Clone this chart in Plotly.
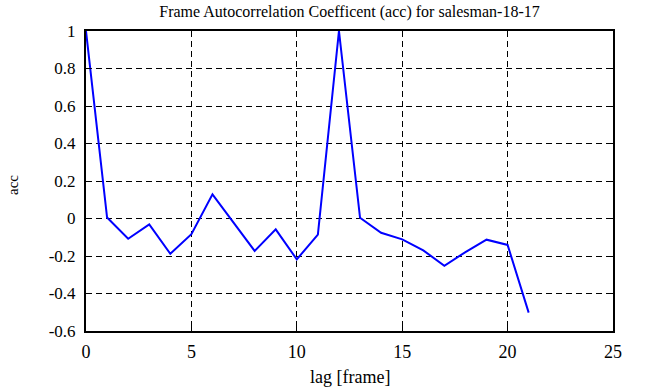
import plotly.graph_objects as go

lags = list(range(0, 22))
acc = [1.0, 0.005, -0.108, -0.031, -0.188, -0.084, 0.129, -0.024, -0.173, -0.058,
       -0.218, -0.086, 1.0, 0.004, -0.076, -0.111, -0.17, -0.252, -0.179, -0.113,
       -0.141, -0.502]

x_ticks = [0, 5, 10, 15, 20, 25]
y_ticks = [-0.6, -0.4, -0.2, 0, 0.2, 0.4, 0.6, 0.8, 1]
y_labels = ["-0.6", "-0.4", "-0.2", "0", "0.2", "0.4", "0.6", "0.8", "1"]

FONT = "Liberation Serif"

fig = go.Figure()
fig.add_trace(go.Scatter(x=lags, y=acc, mode="lines",
                         line=dict(color="#0000FF", width=2), showlegend=False))

axis_common = dict(showline=True, linecolor="black", linewidth=2, mirror="ticks",
                   ticks="inside", ticklen=5, tickwidth=1, tickcolor="black",
                   showgrid=True, gridcolor="black", gridwidth=1, griddash="6px,4px",
                   zeroline=False)

fig.update_layout(
    width=646, height=387,
    margin=dict(l=86, r=33, t=31, b=56),
    paper_bgcolor="white", plot_bgcolor="white",
    font=dict(family=FONT, color="black"),
    title=dict(text="Frame Autocorrelation Coefficent (acc) for salesman-18-17",
               x=(86 + 613) / 2 / 646, xanchor="center",
               y=1 - 11 / 387, yanchor="middle", yref="container",
               font=dict(size=16, family=FONT, color="black")),
    xaxis=dict(range=[0, 25], tickvals=x_ticks, ticktext=[str(v) for v in x_ticks],
               tickfont=dict(size=18, family=FONT, color="black"),
               ticklabelstandoff=3, **axis_common),
    yaxis=dict(range=[-0.6, 1], tickvals=y_ticks, ticktext=y_labels,
               tickfont=dict(size=17, family=FONT, color="black"),
               ticklabelstandoff=5, **axis_common),
    annotations=[
        dict(text="lag [frame]", xref="paper", yref="paper", x=0.5, y=-46 / 300,
             xanchor="center", yanchor="middle", showarrow=False,
             font=dict(size=18, family=FONT, color="black")),
        dict(text="acc", xref="paper", yref="paper", x=(13 - 86) / 527, y=(331 - 185) / 300,
             xanchor="center", yanchor="middle", showarrow=False, textangle=-90,
             font=dict(size=15, family=FONT, color="black")),
    ],
)

fig.write_html("out.html")
